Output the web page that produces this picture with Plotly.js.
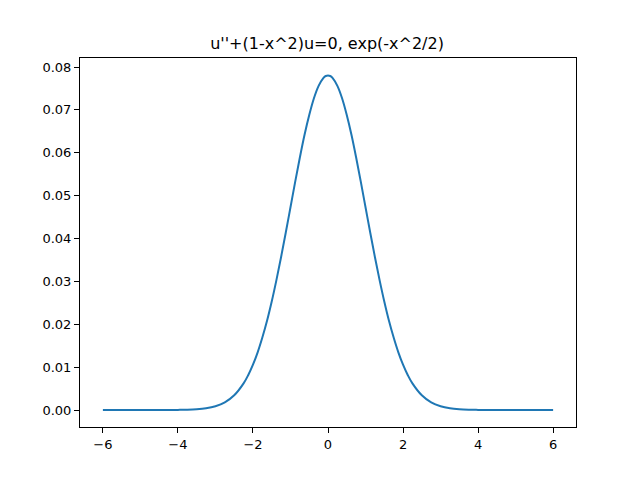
<!DOCTYPE html>
<html>
<head>
<meta charset="utf-8">
<script src="https://cdn.plot.ly/plotly-3.0.1.min.js"></script>
<style>html,body{margin:0;padding:0;background:#fff;}#chart{width:640px;height:480px;}</style>
</head>
<body>
<div id="chart"></div>
<script>
const xValues = [-6, -5.5, -5, -4.5, -4, -3.75, -3.5, -3.25, -3, -2.75, -2.5, -2.25, -2.125, -2, -1.875, -1.75, -1.625, -1.5, -1.375, -1.25, -1.125, -1, -0.875, -0.75, -0.625, -0.5, -0.375, -0.25, -0.125, -0.06, 0.06, 0.125, 0.25, 0.375, 0.5, 0.625, 0.75, 0.875, 1, 1.125, 1.25, 1.375, 1.5, 1.625, 1.75, 1.875, 2, 2.125, 2.25, 2.5, 2.75, 3, 3.25, 3.5, 3.75, 4, 4.5, 5, 5.5, 6];
const uValues = [0, 0, 0, 0.000001, 0.00003, 0.00007, 0.00017, 0.0004, 0.00087, 0.00178, 0.00343, 0.00621, 0.00816, 0.01056, 0.01345, 0.0169, 0.0208, 0.0253, 0.0303, 0.0357, 0.0414, 0.0473, 0.0532, 0.0589, 0.0642, 0.0688, 0.0727, 0.0756, 0.0774, 0.0779, 0.0779, 0.0774, 0.0756, 0.0727, 0.0688, 0.0642, 0.0589, 0.0532, 0.0473, 0.0414, 0.0357, 0.0303, 0.0253, 0.0208, 0.0169, 0.01345, 0.01056, 0.00816, 0.00621, 0.00343, 0.00178, 0.00087, 0.0004, 0.00017, 0.00007, 0.00003, 0.000001, 0, 0, 0];
const titleText = "u''+(1-x^2)u=0, exp(-x^2/2)";
const xTicks = [-6, -4, -2, 0, 2, 4, 6];
const xTickLabels = ["\u22126", "\u22124", "\u22122", "0", "2", "4", "6"];
const yTicks = [0, 0.01, 0.02, 0.03, 0.04, 0.05, 0.06, 0.07, 0.08];
const yTickLabels = ["0.00", "0.01", "0.02", "0.03", "0.04", "0.05", "0.06", "0.07", "0.08"];

const font = {family: "DejaVu Sans, sans-serif", size: 13, color: "#000"};
Plotly.newPlot("chart", [{
  x: xValues, y: uValues, type: "scatter", mode: "lines",
  line: {color: "#1f77b4", width: 2, shape: "spline", smoothing: 1}
}], {
  width: 640, height: 480,
  margin: {l: 80, r: 64, t: 58, b: 53},
  paper_bgcolor: "#fff", plot_bgcolor: "#fff",
  showlegend: false,
  title: {text: titleText, font: {family: "DejaVu Sans, sans-serif", size: 16, color: "#000"}, x: 0.511, xanchor: "center", y: 0.91, yanchor: "middle"},
  xaxis: {range: [-6.61, 6.61], tickvals: xTicks, ticktext: xTickLabels, ticks: "outside", ticklen: 5, tickwidth: 1, tickcolor: "#000",
          showgrid: false, zeroline: false, showline: true, linecolor: "#000", linewidth: 1, mirror: true, tickfont: font},
  yaxis: {range: [-0.00396, 0.0821], tickvals: yTicks, ticktext: yTickLabels, ticks: "outside", ticklen: 5, tickwidth: 1, tickcolor: "#000",
          showgrid: false, zeroline: false, showline: true, linecolor: "#000", linewidth: 1, mirror: true, tickfont: font}
}, {staticPlot: true});
</script>
</body>
</html>
